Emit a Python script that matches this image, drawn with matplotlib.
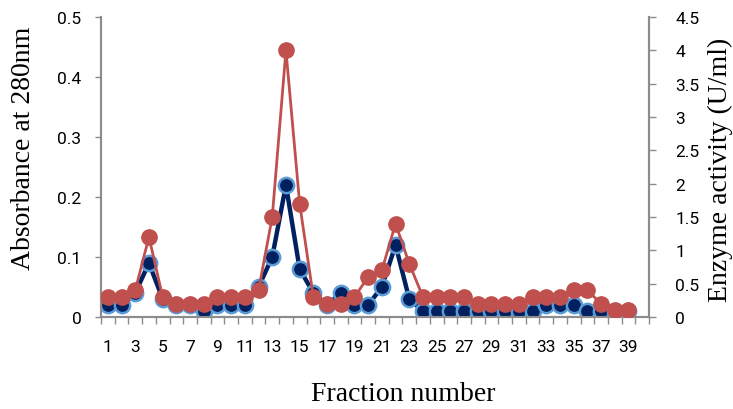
import matplotlib
matplotlib.use("Agg")
import matplotlib.pyplot as plt
from matplotlib.ticker import FixedLocator, NullFormatter

fractions = list(range(1, 40))
absorbance = [0.02, 0.02, 0.04, 0.09, 0.03, 0.02, 0.02, 0.01, 0.02, 0.02,
              0.02, 0.05, 0.10, 0.22, 0.08, 0.04, 0.02, 0.04, 0.02, 0.02,
              0.05, 0.12, 0.03, 0.01, 0.01, 0.01, 0.01, 0.01, 0.01, 0.01,
              0.01, 0.01, 0.02, 0.02, 0.02, 0.01, 0.01, 0.01, 0.01]
enzyme = [0.3, 0.3, 0.4, 1.2, 0.3, 0.2, 0.2, 0.2, 0.3, 0.3,
          0.3, 0.4, 1.5, 4.0, 1.7, 0.3, 0.2, 0.2, 0.3, 0.6,
          0.7, 1.4, 0.8, 0.3, 0.3, 0.3, 0.3, 0.2, 0.2, 0.2,
          0.2, 0.3, 0.3, 0.3, 0.4, 0.4, 0.2, 0.1, 0.1]
xtick_labels = [str(i) for i in range(1, 40, 2)]
left_ticks = [0, 0.1, 0.2, 0.3, 0.4, 0.5]
left_labels = ["0", "0.1", "0.2", "0.3", "0.4", "0.5"]
right_ticks = [0, 0.5, 1, 1.5, 2, 2.5, 3, 3.5, 4, 4.5]
right_labels = ["0", "0.5", "1", "1.5", "2", "2.5", "3", "3.5", "4", "4.5"]

W, H = 733, 410
fig = plt.figure(figsize=(W / 100, H / 100), dpi=100)
ax = fig.add_axes([101 / W, (H - 318) / H, (649 - 101) / W, 300 / H])
ax2 = ax.twinx()

gray = "#8c8c8c"
tick_font = "Roboto"
serif = "Liberation Serif"

ax.plot(fractions, absorbance, color="#002060", lw=3.2, marker="o", ms=11,
        mfc="#002060", mec="#5b9bd5", mew=1.8, zorder=3)
ax2.plot(fractions, enzyme, color="#c0504d", lw=2, marker="o", ms=11,
         mfc="#c0504d", mec="#c0504d", zorder=3)

ax.set_zorder(1)
ax2.set_zorder(2)
ax2.patch.set_visible(False)

ax.set_xlim(0.5, 40.5)
ax.set_ylim(0, 0.5)
ax2.set_ylim(0, 4.5)

ax.xaxis.set_major_locator(FixedLocator(list(range(1, 40, 2))))
ax.set_xticklabels(xtick_labels, fontfamily=tick_font, fontsize=12.5)
ax.xaxis.set_minor_locator(FixedLocator([i + 0.5 for i in range(0, 41)]))
ax.xaxis.set_minor_formatter(NullFormatter())
ax.tick_params(axis="x", which="major", length=0, pad=16)
ax.tick_params(axis="x", which="minor", length=5, width=1, color=gray, direction="out")

ax.set_yticks(left_ticks)
ax.set_yticklabels(left_labels, fontfamily=tick_font, fontsize=12.5)
ax.tick_params(axis="y", length=4, width=1, color=gray, pad=10)

ax2.set_yticks(right_ticks)
ax2.set_yticklabels(right_labels, fontfamily=tick_font, fontsize=12.5)
ax2.tick_params(axis="y", length=5, width=1, color=gray, pad=14)

for a in (ax, ax2):
    a.spines["top"].set_visible(False)
    for s in ("left", "right", "bottom"):
        a.spines[s].set_color(gray)
        a.spines[s].set_linewidth(1.5)

fig.text(24 / W, 1 - 148 / H, "Absorbance at 280nm", rotation=90, ha="center", va="center",
         fontfamily=serif, fontsize=20)
fig.text(720 / W, 1 - 170 / H, "Enzyme activity (U/ml)", rotation=90, ha="center", va="center",
         fontfamily=serif, fontsize=20)
fig.text(403 / W, 1 - 395 / H, "Fraction number", ha="center", va="center",
         fontfamily=serif, fontsize=20)

fig.savefig("out.png", dpi=100)
